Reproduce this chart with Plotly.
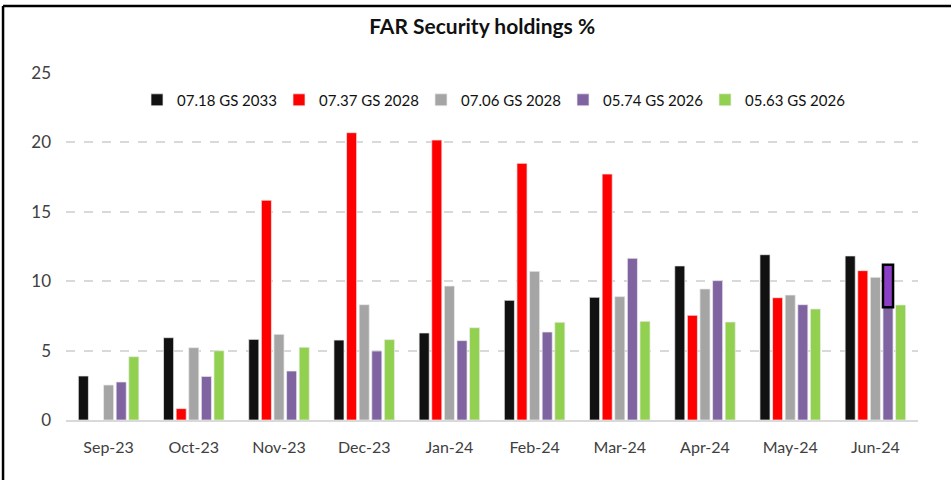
import plotly.graph_objects as go

months = ["Sep-23", "Oct-23", "Nov-23", "Dec-23", "Jan-24", "Feb-24", "Mar-24", "Apr-24", "May-24", "Jun-24"]
series_names = ["07.18 GS 2033", "07.37 GS 2028", "07.06 GS 2028", "05.74 GS 2026", "05.63 GS 2026"]
gs_718_2033 = [3.17, 5.93, 5.81, 5.76, 6.27, 8.62, 8.84, 11.10, 11.91, 11.82]
gs_737_2028 = [None, 0.82, 15.83, 20.70, 20.17, 18.49, 17.72, 7.54, 8.81, 10.76]
gs_706_2028 = [2.52, 5.21, 6.17, 8.31, 9.65, 10.71, 8.89, 9.44, 9.00, 10.28]
gs_574_2026 = [2.74, 3.14, 3.53, 4.97, 5.72, 6.34, 11.65, 10.04, 8.31, 11.19]
gs_563_2026 = [4.56, 4.99, 5.24, 5.79, 6.65, 7.04, 7.11, 7.06, 8.00, 8.29]
# highlighted box drawn over the Jun-24 05.74 GS 2026 bar
highlight_base = [None, None, None, None, None, None, None, None, None, 8.12]
highlight_top = [None, None, None, None, None, None, None, None, None, 11.19]

colors = ["#111111", "#FF0000", "#A5A5A5", "#8064A2", "#92D050"]
values = [gs_718_2033, gs_737_2028, gs_706_2028, gs_574_2026, gs_563_2026]

FONT = "Lato"

fig = go.Figure()
for i, (name, vals, col) in enumerate(zip(series_names, values, colors)):
    fig.add_trace(go.Bar(
        x=months, y=vals, name=name, offsetgroup=str(i),
        marker=dict(color=col, line=dict(color="rgba(235,235,235,0.9)", width=0.8)),
    ))

hl_height = [None if b is None else t - b for b, t in zip(highlight_base, highlight_top)]
fig.add_trace(go.Bar(
    x=months, y=hl_height, base=highlight_base, offsetgroup="3", showlegend=False,
    marker=dict(color="#8B3FC6", line=dict(color="#000000", width=2.5)),
    hoverinfo="skip",
))

# outer frame (left and top edges)
fig.add_shape(type="line", xref="paper", yref="paper", x0=-0.0739, x1=-0.0739, y0=-0.2, y1=1.193,
              line=dict(color="#000000", width=2.5))
fig.add_shape(type="line", xref="paper", yref="paper", x0=-0.0739, x1=1.05, y0=1.193, y1=1.193,
              line=dict(color="#000000", width=2.5))

fig.update_layout(
    width=951, height=480,
    margin=dict(l=66, r=33, t=73, b=60),
    paper_bgcolor="white", plot_bgcolor="white",
    barmode="group", bargap=0.26, bargroupgap=0.2,
    title=dict(text="<b>FAR Security holdings %</b>", x=0.507, xanchor="center",
               y=1 - 27 / 480, yanchor="middle",
               font=dict(family=FONT, size=21, color="#111111")),
    legend=dict(orientation="h", x=0.5, xanchor="center", y=0.922, yanchor="middle",
                font=dict(family=FONT, size=15, color="#111111"),
                entrywidth=97, entrywidthmode="pixels", itemwidth=30,
                bgcolor="rgba(0,0,0,0)"),
    font=dict(family=FONT),
)
fig.update_yaxes(range=[0, 25], dtick=5, showgrid=True, gridcolor="#D9D9D9",
                 griddash="dash", gridwidth=1.5, zeroline=False, showline=False,
                 ticks="", ticklabelstandoff=14,
                 tickfont=dict(family=FONT, size=17, color="#404040"))
fig.update_xaxes(showline=True, linecolor="#D9D9D9", linewidth=1.5, ticks="",
                 tickfont=dict(family=FONT, size=16, color="#404040"),
                 ticklabelstandoff=12)

fig.write_html("out.html", config={"displayModeBar": False},
               post_script="document.body.style.margin='0';document.body.style.padding='0';")
